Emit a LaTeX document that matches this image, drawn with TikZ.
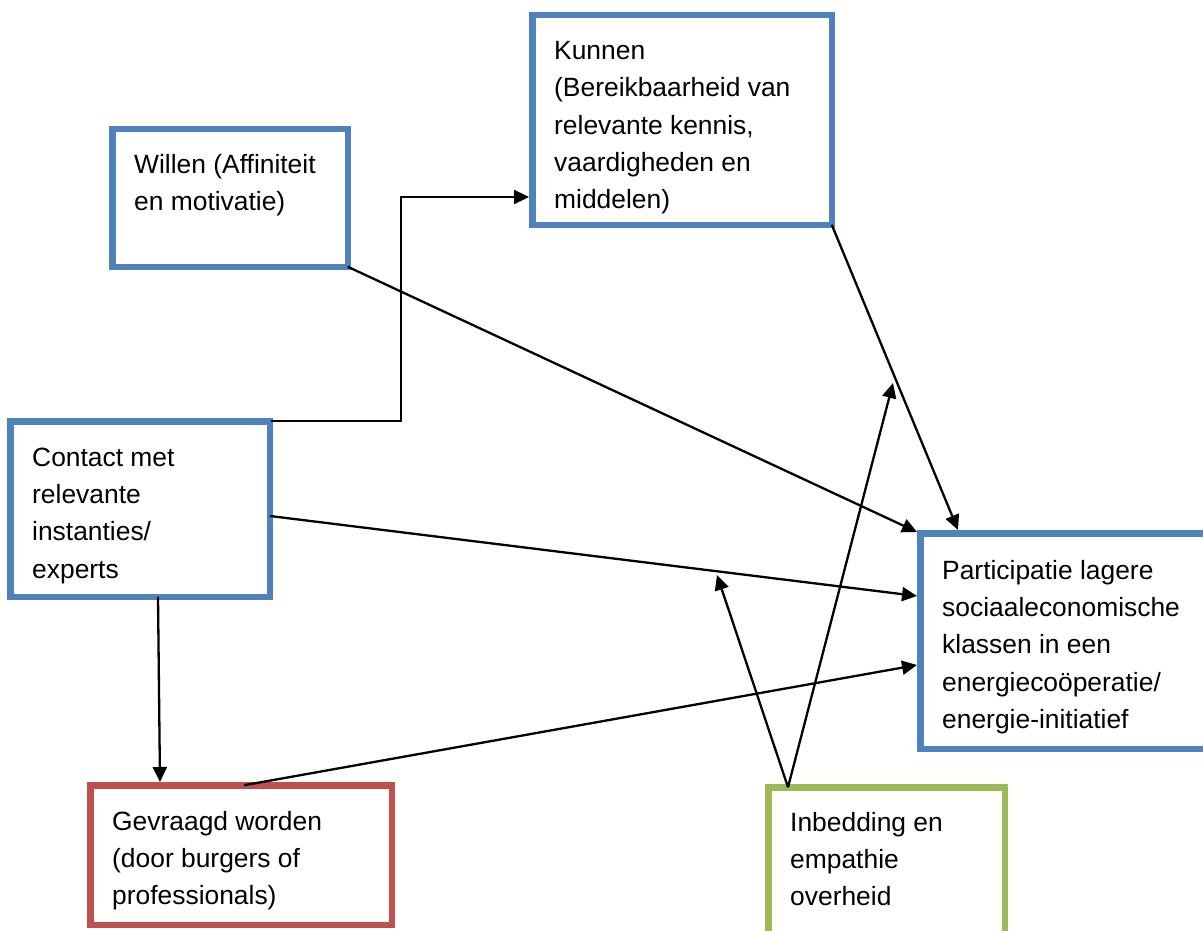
\documentclass[tikz,border=0pt]{standalone}
\usepackage{fontspec}
\setmainfont{Liberation Sans}
\usetikzlibrary{arrows.meta}
\definecolor{boxblue}{HTML}{4F81BD}
\definecolor{boxred}{HTML}{C0504D}
\definecolor{boxgreen}{HTML}{9BBB59}
\begin{document}
\begin{tikzpicture}[x=1pt,y=-1pt,
  frame/.style={draw, line width=6.5pt, rectangle, inner sep=0pt, anchor=north west},
  blueframe/.style={frame, draw=boxblue},
  redframe/.style={frame, draw=boxred},
  greenframe/.style={frame, draw=boxgreen},
  boxtext/.style={anchor=north west, inner sep=0pt, align=left, font=\fontsize{26.4}{37.3}\selectfont},
  conn/.style={draw=black, line width=2.3pt, -{Triangle[length=15pt,width=14pt]}}
]
\useasboundingbox (0,0) rectangle (1203,931);
\clip (0,0) rectangle (1203,931);

% frames
\node[blueframe, minimum width=235.5pt, minimum height=137.5pt] (willen) at (109,126) {};
\node[blueframe, minimum width=299.5pt, minimum height=209.5pt] (kunnen) at (529,12) {};
\node[blueframe, minimum width=259.5pt, minimum height=175.5pt] (contact) at (7,418) {};
\node[redframe, minimum width=301.5pt, minimum height=139.5pt] (gevraagd) at (87,782) {};
\node[blueframe, minimum width=316.5pt, minimum height=215.5pt] (partic) at (917,530) {};
\node[greenframe, minimum width=236.5pt, minimum height=179.5pt] (inbedding) at (765,784) {};

% texts
\node[boxtext] (willentext) at (134,146.9) {\strut Willen (Affiniteit\\en motivatie)};
\node[boxtext] (kunnentext) at (554,33.2) {\strut Kunnen\\(Bereikbaarheid van\\relevante kennis,\\vaardigheden en\\middelen)};
\node[boxtext] (contacttext) at (32,439.9) {\strut Contact met\\relevante\\instanties/\\experts};
\node[boxtext] (gevraagdtext) at (112,803.9) {\strut Gevraagd worden\\(door burgers of\\professionals)};
\node[boxtext] (partictext) at (942,552.9) {\strut Participatie lagere\\sociaaleconomische\\klassen in een\\energiecoöperatie/\\energie-initiatief};
\node[boxtext] (inbeddingtext) at (790,804.9) {\strut Inbedding en\\empathie\\overheid};

% free ends
\coordinate (inbA) at (717,575);
\coordinate (inbB) at (893,383);

% connectors
\draw[conn] ([shift={(-2pt,-3.25pt)}]contact.north east) -| (401,197) -- ([yshift=-77pt]kunnen.west);
\draw[conn] ([shift={(-3.25pt,3.25pt)}]willen.south east) -- ([yshift=-2pt]partic.north west);
\draw[conn] ([shift={(-3.25pt,3.25pt)}]kunnen.south east) -- ([xshift=41pt]partic.north west);
\draw[conn] ([shift={(-3pt,-7pt)}]contact.east) -- ([yshift=45pt]partic.west);
\draw[conn] ([shift={(3pt,-3.25pt)}]gevraagd.north) -- ([yshift=-24pt]partic.west);
\draw[conn] ([shift={(18pt,3.25pt)}]contact.south) -- ([xshift=-81pt]gevraagd.north);
\draw[conn] ([shift={(-98.5pt,-3.25pt)}]inbedding.north) -- (inbA);
\draw[conn] ([shift={(-98.5pt,-3.25pt)}]inbedding.north) -- (inbB);
\end{tikzpicture}
\end{document}
